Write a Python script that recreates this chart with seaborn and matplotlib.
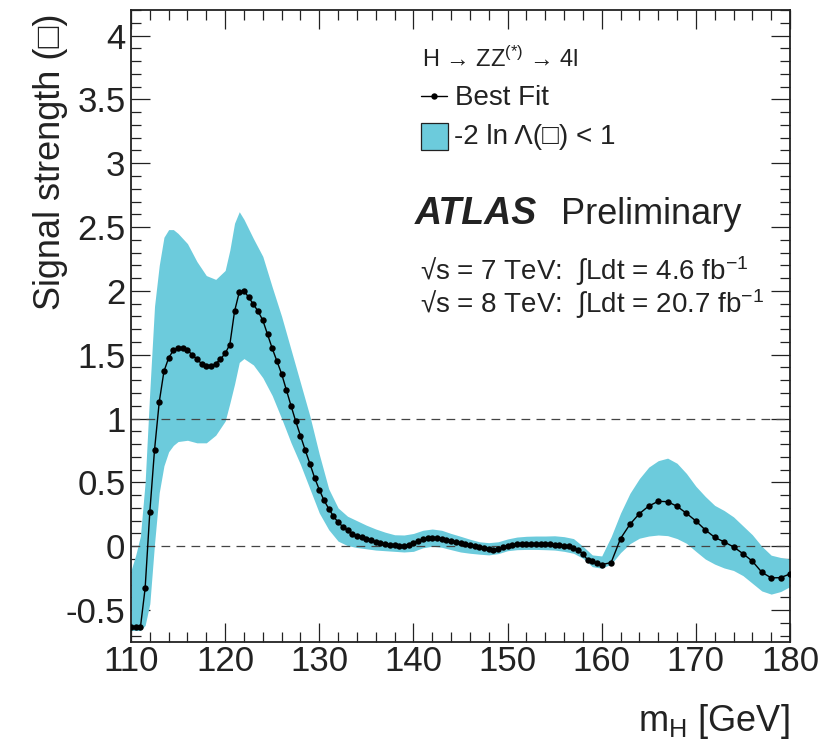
import matplotlib
matplotlib.use("Agg")
import matplotlib.pyplot as plt
from matplotlib.lines import Line2D
from matplotlib.patches import Rectangle
from matplotlib.ticker import MultipleLocator, FormatStrFormatter
import seaborn as sns
import pandas as pd

# best-fit signal strength vs m_H
mass = [110, 110.5, 111, 111.5, 112, 112.5, 113, 113.5, 114, 114.5,
        115, 115.5, 116, 116.5, 117, 117.5, 118, 118.5, 119, 119.5,
        120, 120.5, 121, 121.5, 122, 122.5, 123, 123.5, 124, 124.5,
        125, 125.5, 126, 126.5, 127, 127.5, 128, 128.5, 129, 129.5,
        130, 130.5, 131, 131.5, 132, 132.5, 133, 133.5, 134, 134.5,
        135, 135.5, 136, 136.5, 137, 137.5, 138, 138.5, 139, 139.5,
        140, 140.5, 141, 141.5, 142, 142.5, 143, 143.5, 144, 144.5,
        145, 145.5, 146, 146.5, 147, 147.5, 148, 148.5, 149, 149.5,
        150, 150.5, 151, 151.5, 152, 152.5, 153, 153.5, 154, 154.5,
        155, 155.5, 156, 156.5, 157, 157.5, 158, 158.5, 159, 159.5,
        160, 161, 162, 163, 164, 165, 166, 167, 168, 169,
        170, 171, 172, 173, 174, 175, 176, 177, 178, 179, 180]
mu_best = [-0.635, -0.635, -0.635, -0.33, 0.27, 0.755, 1.13, 1.37, 1.475, 1.535,
           1.55, 1.55, 1.535, 1.50, 1.465, 1.43, 1.41, 1.41, 1.43, 1.465,
           1.51, 1.58, 1.84, 1.99, 2.0, 1.95, 1.895, 1.84, 1.77, 1.66,
           1.55, 1.45, 1.35, 1.225, 1.10, 0.978, 0.866, 0.754, 0.647, 0.537,
           0.443, 0.36, 0.295, 0.235, 0.188, 0.153, 0.124, 0.098, 0.083, 0.07,
           0.06, 0.047, 0.034, 0.023, 0.018, 0.013, 0.01, 0.005, 0.005, 0.013,
           0.028, 0.044, 0.055, 0.063, 0.067, 0.067, 0.06, 0.052, 0.044, 0.034,
           0.023, 0.016, 0.008, 0.0, -0.008, -0.016, -0.023, -0.029, -0.023, -0.003,
           0.005, 0.013, 0.016, 0.018, 0.018, 0.018, 0.018, 0.018, 0.018, 0.016,
           0.013, 0.01, 0.005, 0.0, -0.01, -0.029, -0.06, -0.107, -0.118, -0.134,
           -0.144, -0.128, 0.06, 0.172, 0.255, 0.315, 0.352, 0.349, 0.313, 0.258,
           0.198, 0.128, 0.07, 0.034, -0.005, -0.058, -0.117, -0.203, -0.248, -0.246, -0.217]

# -2 ln Lambda < 1 band
band_mass = [110, 110.5, 111, 111.5, 112, 112.5, 113, 113.5, 114, 114.5,
             115, 116, 117, 118, 119, 120, 120.5, 121, 121.5, 122,
             123, 124, 125, 126, 127, 128, 129, 130, 131, 132,
             133, 134, 135, 136, 137, 138, 139, 140, 141, 142,
             143, 144, 145, 146, 147, 148, 149, 150, 151, 152,
             153, 154, 155, 156, 157, 158, 159, 160, 161, 162,
             163, 164, 165, 166, 167, 168, 169, 170, 171, 172,
             173, 174, 175, 176, 177, 178, 179, 180]
band_hi = [-0.19, -0.07, 0.08, 0.5, 1.22, 1.88, 2.20, 2.42, 2.48, 2.48,
           2.45, 2.37, 2.23, 2.12, 2.09, 2.16, 2.32, 2.53, 2.62, 2.56,
           2.41, 2.27, 2.03, 1.80, 1.54, 1.28, 1.02, 0.72, 0.45, 0.30,
           0.235, 0.20, 0.165, 0.135, 0.11, 0.09, 0.088, 0.10, 0.125, 0.135,
           0.125, 0.10, 0.078, 0.055, 0.035, 0.028, 0.035, 0.057, 0.072, 0.078,
           0.08, 0.08, 0.082, 0.075, 0.06, 0.0, -0.068, -0.076, 0.075, 0.26,
           0.415, 0.53, 0.62, 0.67, 0.69, 0.65, 0.57, 0.47, 0.39, 0.32,
           0.28, 0.23, 0.16, 0.09, 0.0, -0.07, -0.088, -0.10]
band_lo = [-0.66, -0.66, -0.66, -0.62, -0.45, 0.02, 0.42, 0.63, 0.74, 0.79,
           0.82, 0.83, 0.81, 0.81, 0.87, 0.98, 1.12, 1.27, 1.44, 1.47,
           1.42, 1.32, 1.18, 1.0, 0.81, 0.64, 0.45, 0.26, 0.13, 0.04,
           0.005, -0.01, -0.02, -0.03, -0.035, -0.04, -0.045, -0.04, -0.012, 0.0,
           -0.008, -0.027, -0.045, -0.055, -0.062, -0.068, -0.058, -0.035, -0.027, -0.025,
           -0.025, -0.027, -0.03, -0.04, -0.055, -0.094, -0.16, -0.172, -0.14, -0.05,
           0.02, 0.063, 0.08, 0.088, 0.083, 0.06, 0.023, -0.04, -0.1, -0.14,
           -0.17, -0.19, -0.23, -0.29, -0.35, -0.375, -0.355, -0.316]

BAND = "#6ccbdc"
INK = "#222222"

sns.set_theme(style="ticks")
plt.rcParams['font.family'] = ['Liberation Sans', 'DejaVu Sans']
plt.rcParams['axes.unicode_minus'] = False
plt.rcParams['mathtext.fontset'] = 'custom'
plt.rcParams['mathtext.rm'] = 'Liberation Sans'
plt.rcParams['mathtext.it'] = 'Liberation Sans:italic'
plt.rcParams['mathtext.bf'] = 'Liberation Sans:bold'

fig = plt.figure(figsize=(8.28, 7.5), dpi=100)
ax = fig.add_axes([131 / 828, 1 - 642 / 750, 659 / 828, 632 / 750])

df = pd.DataFrame({"mass": mass, "mu": mu_best})

ax.fill_between(band_mass, band_lo, band_hi, color=BAND, lw=0, zorder=1)
for yref in (0, 1):
    ax.axhline(yref, color="#444444", lw=0.9, ls=(0, (7, 5)), zorder=2)
sns.lineplot(data=df, x="mass", y="mu", sort=False, color="black", lw=1.0,
             marker="o", markersize=4.6, markeredgewidth=0, ax=ax, zorder=3)

ax.set_xlim(110, 180)
ax.set_ylim(-0.75, 4.2)
ax.xaxis.set_major_locator(MultipleLocator(10))
ax.xaxis.set_minor_locator(MultipleLocator(2))
ax.yaxis.set_major_locator(MultipleLocator(0.5))
ax.yaxis.set_minor_locator(MultipleLocator(0.1))
ax.yaxis.set_major_formatter(FormatStrFormatter('%g'))
ax.tick_params(which='both', direction='in', top=True, right=True,
               width=0.9, color=INK, labelcolor=INK)
ax.tick_params(which='major', length=14)
ax.tick_params(which='minor', length=7)
ax.tick_params(axis='x', labelsize=25, pad=2)
ax.tick_params(axis='y', labelsize=25, pad=4)
for sp in ax.spines.values():
    sp.set_linewidth(1.3)
    sp.set_color(INK)

ax.set_ylabel("Signal strength (\u25a1)", fontsize=26, color=INK, loc='top')
ax.yaxis.set_label_coords((68 - 131) / 659, (642 - 14) / 632)
ax.set_xlabel(r"$\mathrm{m}_{\mathrm{H}}$ [GeV]", fontsize=26, color=INK, loc='right')
ax.xaxis.set_label_coords(1.0, (642 - 702) / 632)


def to_ax(px, py):
    return (px - 131) / 659, (642 - py) / 632


# legend block
tx, ty = to_ax(422, 67)
ax.text(tx, ty, "H \u2192 ZZ$^{(*)}$ \u2192 4l", transform=ax.transAxes,
        fontsize=17, va='baseline', ha='left', color=INK)
x0, y0 = to_ax(421, 96)
x1, _ = to_ax(447, 96)
ax.add_line(Line2D([x0, x1], [y0, y0], transform=ax.transAxes, color='black', lw=1.0))
xm, _ = to_ax(434, 96)
ax.add_line(Line2D([xm], [y0], transform=ax.transAxes, color='black', marker='o',
                   markersize=4.6, markeredgewidth=0))
tx, ty = to_ax(455, 105)
ax.text(tx, ty, "Best Fit", transform=ax.transAxes, fontsize=20, va='baseline',
        color=INK)
rx, ry = to_ax(421, 150)
ax.add_patch(Rectangle((rx, ry), 27 / 659, 27 / 632, transform=ax.transAxes,
                       facecolor=BAND, edgecolor=INK, lw=0.9))
tx, ty = to_ax(454, 144)
ax.text(tx, ty, "-2 ln \u039b(\u25a1) < 1", transform=ax.transAxes, fontsize=20,
        va='baseline', color=INK)

tx, ty = to_ax(415, 224)
ax.text(tx, ty, "ATLAS", transform=ax.transAxes, fontsize=27, fontweight='bold',
        fontstyle='italic', va='baseline', color=INK)
tx, _ = to_ax(561, 224)
ax.text(tx, ty, "Preliminary", transform=ax.transAxes, fontsize=26, va='baseline',
        color=INK)
tx, ty = to_ax(420, 280)
ax.text(tx, ty, "\u221as = 7 TeV:  $\\int$Ldt = 4.6 fb$^{-1}$",
        transform=ax.transAxes, fontsize=20, va='baseline', color=INK)
tx, ty = to_ax(420, 313)
ax.text(tx, ty, "\u221as = 8 TeV:  $\\int$Ldt = 20.7 fb$^{-1}$",
        transform=ax.transAxes, fontsize=20, va='baseline', color=INK)

fig.savefig("out.png", dpi=100)
